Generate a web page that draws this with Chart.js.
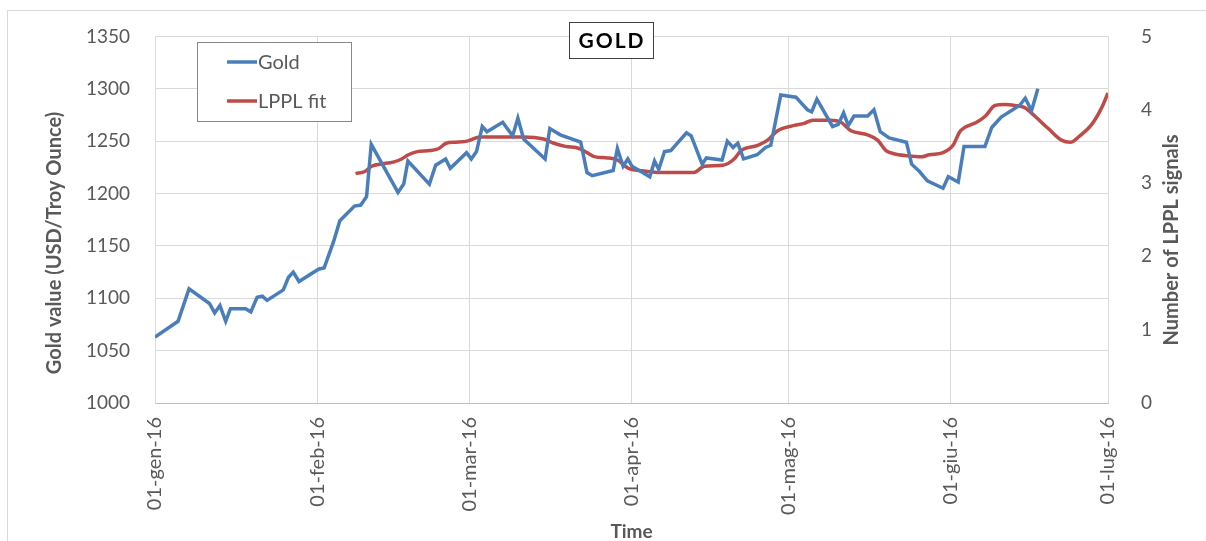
<!DOCTYPE html>
<html>
<head>
<meta charset="utf-8">
<title>GOLD - LPPL fit</title>
<script src="https://cdn.jsdelivr.net/npm/chart.js@4.4.1/dist/chart.umd.min.js"></script>
<style>
  body { margin: 0; background: #fff; }
  #wrap { position: relative; width: 1206px; height: 541px; overflow: hidden; }
  #frame { position: absolute; left: 7px; top: 10px; width: 1220px; height: 560px; border: 1px solid #d9d9d9; }
  canvas { position: absolute; left: 0; top: 0; }
</style>
</head>
<body>
<div id="wrap">
  <div id="frame"></div>
  <canvas id="goldChart" width="1206" height="541"></canvas>
</div>
<script>
// days counted from 01-gen-16
const monthTicks = [0, 31, 60, 91, 121, 152, 182]
const monthLabels = ['01-gen-16', '01-feb-16', '01-mar-16', '01-apr-16', '01-mag-16', '01-giu-16', '01-lug-16']

const goldDays = [0, 4.4, 6.5, 10.4, 11.4, 12.4, 13.5, 14.4, 17.3, 18.3, 19.5, 20.5, 21.4, 24.5, 25.5, 26.4, 27.5,
  31.3, 32.3, 34.1, 35.3, 38.1, 39.3, 40.4, 41.3, 46.4, 47.5, 48.3, 52.4, 53.6, 55.5, 56.4, 59.5,
  60.4, 61.4, 62.5, 63.4, 66.4, 68.3, 69.3, 70.4, 74.5, 75.4, 77.4, 81.3, 82.5, 83.5, 87.5, 88.3, 89.4, 90.3,
  91.1, 94.5, 95.4, 96.2, 97.3, 98.5, 101.5, 102.4, 104.5, 105.3, 108.3, 109.3, 110.4, 111.3, 112.4, 115.0, 116.6, 117.6, 119.5,
  122.4, 124.6, 125.4, 126.4, 129.4, 130.5, 131.5, 132.4, 133.5, 136.1, 137.3, 138.5, 140.2, 143.5, 144.5, 146.0, 147.5, 150.5,
  151.5, 153.4, 154.5, 157.4, 158.5, 159.8, 161.6, 165.1, 166.2, 167.4, 168.6]
const goldValues = [1063, 1078, 1109, 1095, 1086, 1093, 1078, 1090, 1090, 1087, 1101, 1102, 1098, 1108, 1120, 1125, 1116,
  1128, 1129, 1154, 1174, 1188, 1189, 1197, 1247, 1201, 1209, 1231, 1209, 1227, 1233, 1224, 1239,
  1233, 1240, 1264, 1259, 1268, 1255, 1272, 1252, 1233, 1262, 1256, 1249, 1220, 1217, 1222, 1243, 1226, 1233,
  1226, 1216, 1231, 1223, 1240, 1241, 1258, 1255, 1228, 1234, 1232, 1250, 1244, 1248, 1233, 1237, 1244, 1246, 1294,
  1292, 1280, 1278, 1290, 1264, 1266, 1277, 1265, 1274, 1274, 1280, 1259, 1253, 1249, 1228, 1221, 1212, 1205,
  1216, 1211, 1245, 1245, 1245, 1263, 1273, 1284, 1291, 1279, 1300]

const lpplDays = [38.3, 40.1, 41.4, 43.0, 45.5, 47.1, 48.4, 50.1, 52.5, 54.2, 55.6, 57.4, 59.6, 62.1, 64.1, 67.9, 70.4,
  74.2, 76.2, 78.4, 81.0, 82.5, 84.1, 86.4, 88.3, 90.4, 92.6, 96.6, 99.0, 102.9, 104.9, 108.4, 110.6, 111.9,
  115.1, 117.0, 118.9, 122.1, 124.0, 125.6, 129.1, 131.0, 132.9, 136.1, 138.0, 139.6, 141.1, 143.7, 146.3, 147.9,
  150.5, 152.4, 153.7, 154.6, 156.9, 158.6, 160.4, 162.3, 164.2, 166.1, 168.0, 170.6, 173.1, 174.9, 176.6, 178.9, 180.8, 182]
const lpplValues = [1219, 1221, 1226, 1228, 1230, 1233, 1237, 1240, 1241, 1243, 1248, 1249, 1250, 1254, 1254, 1254, 1254,
  1252, 1248, 1245, 1243, 1239, 1235, 1234, 1232, 1224, 1222, 1220, 1220, 1220, 1226, 1227, 1233, 1241,
  1246, 1251, 1260, 1265, 1267, 1270, 1270, 1268, 1260, 1256, 1251, 1241, 1238, 1236, 1235, 1237,
  1239, 1246, 1259, 1263, 1268, 1274, 1284, 1285, 1284, 1282, 1274, 1262, 1251, 1249, 1255, 1266, 1282, 1296]

const signalTicks = [0, 1, 2, 3, 4, 5]

const gray = '#595959'
const gridGray = '#d9d9d9'
const txtFont = 'Lato, "Open Sans", sans-serif'

function toPoints(xs, ys) {
  return xs.map((x, i) => ({ x: x, y: ys[i] }))
}

// titles, legend and the boxed "GOLD" label
const decorPlugin = {
  id: 'decor',
  afterDraw(chart) {
    const ctx = chart.ctx
    ctx.save()
    ctx.fillStyle = gray
    ctx.font = 'bold 20px ' + txtFont
    ctx.textAlign = 'center'
    ctx.textBaseline = 'middle'
    // left axis title
    ctx.save()
    ctx.translate(55, 243)
    ctx.rotate(-Math.PI / 2)
    ctx.fillText('Gold value (USD/Troy Ounce)', 0, 0)
    ctx.restore()
    // right axis title
    ctx.save()
    ctx.translate(1172, 240)
    ctx.rotate(-Math.PI / 2)
    ctx.fillText('Number of LPPL signals', 0, 0)
    ctx.restore()

    // title box
    ctx.fillStyle = '#fff'
    ctx.fillRect(569, 22, 84, 36)
    ctx.strokeStyle = '#404040'
    ctx.lineWidth = 1
    ctx.strokeRect(569.5, 22.5, 84, 36)
    ctx.fillStyle = '#000'
    ctx.font = 'bold 21px ' + txtFont
    ctx.letterSpacing = '2px'
    ctx.fillText('GOLD', 612, 41)
    ctx.letterSpacing = '0px'

    // legend
    ctx.fillStyle = '#fff'
    ctx.fillRect(197, 42, 154, 79)
    ctx.strokeStyle = '#888'
    ctx.strokeRect(197.5, 42.5, 154, 79)
    ctx.font = '20px ' + txtFont
    ctx.textAlign = 'left'
    const rows = [62, 101]
    chart.data.datasets.forEach((ds, i) => {
      ctx.strokeStyle = ds.borderColor
      ctx.lineWidth = 3.5
      ctx.beginPath()
      ctx.moveTo(227, rows[i])
      ctx.lineTo(257, rows[i])
      ctx.stroke()
      ctx.fillStyle = gray
      ctx.fillText(ds.label, 258, rows[i] + 1)
    })
    ctx.restore()
  }
}

new Chart(document.getElementById('goldChart'), {
  type: 'line',
  data: {
    datasets: [{
      label: 'Gold',
      data: toPoints(goldDays, goldValues),
      borderColor: '#4a7ebb',
      borderWidth: 3.5,
      pointRadius: 0,
      tension: 0,
      yAxisID: 'y'
    }, {
      label: 'LPPL fit',
      data: toPoints(lpplDays, lpplValues),
      borderColor: '#be4b48',
      borderWidth: 3.5,
      pointRadius: 0,
      cubicInterpolationMode: 'monotone',
      yAxisID: 'y'
    }]
  },
  options: {
    responsive: false,
    animation: false,
    events: [],
    layout: { padding: { top: 29, left: 0, right: 0, bottom: 0 } },
    plugins: {
      legend: { display: false },
      tooltip: { enabled: false }
    },
    scales: {
      x: {
        type: 'linear',
        min: 0,
        max: 182,
        afterBuildTicks: s => { s.ticks = monthTicks.map(v => ({ value: v })) },
        afterFit: s => { s.height = 138 },
        ticks: {
          callback: (v, i) => monthLabels[i],
          autoSkip: false,
          minRotation: 90,
          maxRotation: 90,
          padding: 14,
          color: gray,
          font: { family: txtFont, size: 20 }
        },
        grid: { color: gridGray, drawTicks: false },
        border: { color: '#bfbfbf' },
        title: {
          display: true,
          text: 'Time',
          color: gray,
          padding: { top: 0, bottom: -2 },
          font: { family: txtFont, size: 19, weight: 'bold' }
        }
      },
      y: {
        position: 'left',
        min: 1000,
        max: 1350,
        afterFit: s => { s.width = 155 },
        ticks: {
          stepSize: 50,
          padding: 25,
          callback: v => String(v),
          color: gray,
          font: { family: txtFont, size: 19 }
        },
        grid: { color: gridGray, drawTicks: false },
        border: { color: gridGray }
      },
      y1: {
        position: 'right',
        min: 0,
        max: 5,
        afterBuildTicks: s => { s.ticks = signalTicks.map(v => ({ value: v })) },
        afterFit: s => { s.width = 98 },
        ticks: {
          padding: 25,
          callback: v => String(v),
          color: gray,
          font: { family: txtFont, size: 19 }
        },
        grid: { display: false },
        border: { display: false }
      }
    }
  },
  plugins: [decorPlugin]
})
</script>
</body>
</html>
